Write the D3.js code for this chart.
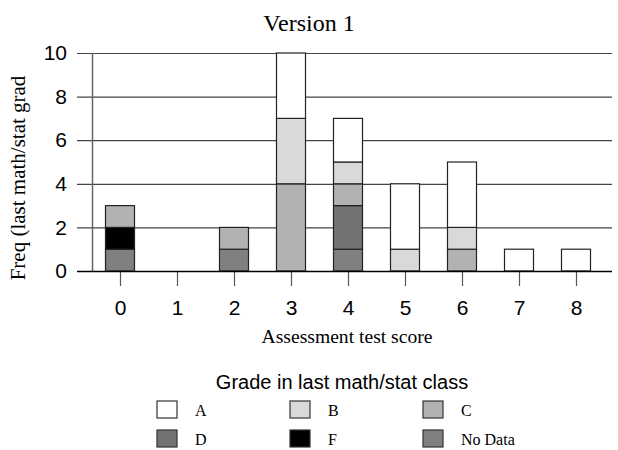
<!DOCTYPE html>
<html>
<head>
<meta charset="utf-8">
<script src="https://cdn.jsdelivr.net/npm/d3@7"></script>
<style>
body { margin: 0; background: #fff; }
</style>
</head>
<body>
<div id="chart"></div>
<script>
// assessment test scores (x categories)
const scores = [0, 1, 2, 3, 4, 5, 6, 7, 8];
// frequency per grade, stacked bottom-up in the order of 'grades'
const grades = ["No Data", "F", "D", "C", "B", "A"];
const noData = [1, 0, 1, 0, 1, 0, 0, 0, 0];
const gradeF = [1, 0, 0, 0, 0, 0, 0, 0, 0];
const gradeD = [0, 0, 0, 0, 2, 0, 0, 0, 0];
const gradeC = [1, 0, 1, 4, 1, 0, 1, 0, 0];
const gradeB = [0, 0, 0, 3, 1, 1, 1, 0, 0];
const gradeA = [0, 0, 0, 3, 2, 3, 3, 1, 1];
const yTicks = [0, 2, 4, 6, 8, 10];
const legendOrder = ["A", "B", "C", "D", "F", "No Data"];

const colors = {"A": "#ffffff", "B": "#d9d9d9", "C": "#b2b2b2", "D": "#737373", "F": "#000000", "No Data": "#808080"};

function init() {
    const series = {"No Data": noData, "F": gradeF, "D": gradeD, "C": gradeC, "B": gradeB, "A": gradeA};
    const table = scores.map((s, i) => {
        const row = {score: s};
        grades.forEach(g => row[g] = series[g][i]);
        return row;
    });
    drawChart(table);
}

function drawChart(table) {
    var w = 618;
    var h = 450;

    var svg = d3.select("#chart")
                .append("svg")
                .attr("width", w)
                .attr("height", h);

    var xScale = d3.scaleLinear().domain([0, 8]).range([120, 576]);
    var yScale = d3.scaleLinear().domain([0, 10]).range([271, 53]);
    var barW = 29;

    //title
    svg.append("text")
        .attr("x", 309).attr("y", 31)
        .attr("text-anchor", "middle")
        .style("font-family", "'Liberation Serif', 'Times New Roman', serif")
        .style("font-size", "24px")
        .text("Version 1");

    //y axis with gridlines
    var yAxis = d3.axisLeft(yScale)
                .tickValues(yTicks)
                .tickSize(-(612 - 77))
                .tickPadding(10);
    var gy = svg.append("g")
        .attr("transform", "translate(77,0)")
        .call(yAxis);
    gy.select(".domain").remove();
    gy.selectAll(".tick line").attr("stroke", "#444").attr("stroke-width", 1.2);
    gy.selectAll(".tick text")
        .style("font-family", "'Liberation Sans', Arial, sans-serif")
        .style("font-size", "21px")
        .attr("fill", "#000");

    //y axis line
    svg.append("line")
        .attr("x1", 92.5).attr("x2", 92.5)
        .attr("y1", yScale(10)).attr("y2", yScale(0))
        .attr("stroke", "#666").attr("stroke-width", 1.5);

    //stacked bars
    var stack = d3.stack().keys(grades)(table);
    svg.selectAll("g.layer")
        .data(stack)
        .enter()
        .append("g")
        .attr("class", "layer")
        .attr("fill", d => colors[d.key])
        .selectAll("rect")
        .data(d => d.filter(p => p[1] > p[0]))
        .enter()
        .append("rect")
        .attr("x", d => xScale(d.data.score) - barW / 2)
        .attr("y", d => yScale(d[1]))
        .attr("width", barW)
        .attr("height", d => yScale(d[0]) - yScale(d[1]))
        .attr("stroke", "#222")
        .attr("stroke-width", 1.2);

    //x axis
    var xAxis = d3.axisBottom(xScale)
                .tickValues(scores)
                .tickFormat(d3.format("d"))
                .tickSize(15)
                .tickSizeOuter(0)
                .tickPadding(14);
    var gx = svg.append("g")
        .attr("transform", "translate(0,271)")
        .call(xAxis);
    gx.select(".domain").remove();
    gx.selectAll(".tick line").attr("stroke", "#555").attr("stroke-width", 1.2);
    gx.selectAll(".tick text")
        .style("font-family", "'Liberation Sans', Arial, sans-serif")
        .style("font-size", "21px")
        .attr("fill", "#000");
    svg.append("line")
        .attr("x1", 77).attr("x2", 612)
        .attr("y1", 271.5).attr("y2", 271.5)
        .attr("stroke", "#000").attr("stroke-width", 1.5);

    //x axis label
    svg.append("text")
        .attr("x", 347).attr("y", 343)
        .attr("text-anchor", "middle")
        .style("font-family", "'Liberation Serif', 'Times New Roman', serif")
        .style("font-size", "19.6px")
        .text("Assessment test score");

    //y axis label
    svg.append("text")
        .attr("transform", "rotate(-90)")
        .attr("x", -178).attr("y", 25)
        .attr("text-anchor", "middle")
        .style("font-family", "'Liberation Serif', 'Times New Roman', serif")
        .style("font-size", "21px")
        .text("Freq (last math/stat grad");

    //legend
    svg.append("text")
        .attr("x", 342).attr("y", 389)
        .attr("text-anchor", "middle")
        .style("font-family", "'Liberation Sans', Arial, sans-serif")
        .style("font-size", "20px")
        .text("Grade in last math/stat class");

    var legend = svg.selectAll("g.legend")
        .data(legendOrder)
        .enter()
        .append("g")
        .attr("class", "legend")
        .attr("transform", (d, i) => "translate(" + (157 + (i % 3) * 133) + "," + (401 + Math.floor(i / 3) * 29) + ")");
    legend.append("rect")
        .attr("width", 20).attr("height", 17)
        .attr("fill", d => colors[d])
        .attr("stroke", "#333").attr("stroke-width", 1.2);
    legend.append("text")
        .attr("x", 38).attr("y", 15)
        .style("font-family", "'Liberation Serif', 'Times New Roman', serif")
        .style("font-size", "16px")
        .text(d => d);
}

window.onload = init();
</script>
</body>
</html>
